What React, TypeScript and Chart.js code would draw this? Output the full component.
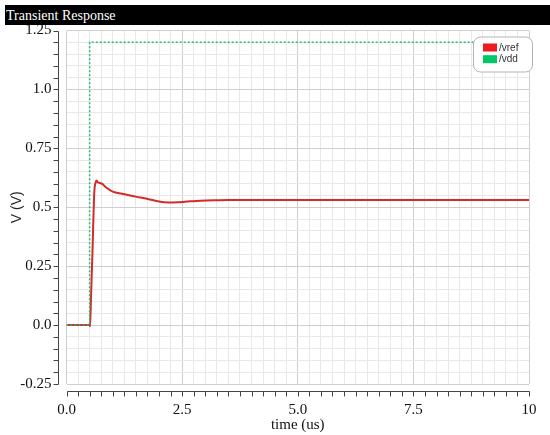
import React, { useEffect, useRef } from 'react';
import { Chart, registerables } from 'chart.js';

Chart.register(...registerables);

const titleText = 'Transient Response';
const xAxisTitle = 'time (us)';
const yAxisTitle = 'V (V)';
const seriesNames = ['/vref', '/vdd'];

const vrefTime = [0, 0.5, 0.51, 0.53, 0.56, 0.6, 0.63, 0.65, 0.68, 0.72, 0.78, 0.85, 0.94, 1.0, 1.2, 1.5, 1.8, 2.0, 2.2, 2.4, 2.6, 2.9, 3.2, 3.5, 4, 5, 6, 7, 8, 9, 10];
const vrefVolts = [0, 0, -0.005, 0.12, 0.3, 0.56, 0.605, 0.613, 0.605, 0.603, 0.598, 0.585, 0.573, 0.566, 0.557, 0.545, 0.533, 0.524, 0.52, 0.521, 0.524, 0.528, 0.53, 0.531, 0.531, 0.531, 0.531, 0.531, 0.531, 0.531, 0.531];

const vddTime = [0, 0.5, 0.5, 10];
const vddVolts = [0, 0, 1.2, 1.2];

const xMajorTicks = [0, 2.5, 5, 7.5, 10];
const xTickLabels = ['0.0', '2.5', '5.0', '7.5', '10'];
const yMajorTicks = [-0.25, 0, 0.25, 0.5, 0.75, 1.0, 1.25];
const yTickLabels = ['-0.25', '0.0', '0.25', '0.5', '0.75', '1.0', '1.25'];
const xMinorStep = 0.25;
const yMinorStep = 0.05;

const seriesLineColors = ['#d42a2a', '#1fbf6c'];
const seriesLegendColors = ['#ee1c1c', '#00c864'];

const findMajor = (arr: number[], v: number) => arr.findIndex((m) => Math.abs(m - v) < 1e-6);

const buildTicks = (min: number, max: number, step: number) => {
  const out: { value: number }[] = [];
  const n = Math.round((max - min) / step);
  for (let i = 0; i <= n; i++) out.push({ value: Math.round((min + i * step) * 1e9) / 1e9 });
  return out;
};

const decorPlugin = {
  id: 'decor',
  afterDraw(chart: any) {
    const { ctx, chartArea, scales } = chart;
    const xs = scales.x;
    const ys = scales.y;
    ctx.save();
    ctx.strokeStyle = '#444';
    ctx.lineWidth = 1;
    ctx.beginPath();
    const ax = Math.round(chartArea.left - 9) + 0.5;
    ctx.moveTo(ax, Math.round(ys.getPixelForValue(ys.max)) + 0.5);
    ctx.lineTo(ax, Math.round(ys.getPixelForValue(ys.min)) + 0.5);
    ys.ticks.forEach((t: any) => {
      const y = Math.round(ys.getPixelForValue(t.value)) + 0.5;
      ctx.moveTo(ax - 5, y);
      ctx.lineTo(ax, y);
    });
    const ay = Math.round(chartArea.bottom + 7) + 0.5;
    ctx.moveTo(Math.round(xs.getPixelForValue(xs.min)) + 0.5, ay);
    ctx.lineTo(Math.round(xs.getPixelForValue(xs.max)) + 0.5, ay);
    xs.ticks.forEach((t: any) => {
      const x = Math.round(xs.getPixelForValue(t.value)) + 0.5;
      ctx.moveTo(x, ay);
      ctx.lineTo(x, ay + 5);
    });
    ctx.stroke();

    // legend box
    const bw = 59;
    const bh = 35;
    const bx = chartArea.right + 3 - bw;
    const by = chartArea.top + 6;
    ctx.beginPath();
    ctx.roundRect(bx + 0.5, by + 0.5, bw, bh, 7);
    ctx.fillStyle = '#ffffff';
    ctx.fill();
    ctx.strokeStyle = '#b4b4b4';
    ctx.stroke();
    ctx.font = '10px "Liberation Sans", Arial, sans-serif';
    ctx.textBaseline = 'middle';
    ctx.textAlign = 'left';
    chart.data.datasets.forEach((ds: any, i: number) => {
      const ry = by + 7 + i * 11.7;
      ctx.fillStyle = seriesLegendColors[i];
      ctx.fillRect(bx + 10, ry, 14, 8);
      ctx.fillStyle = '#333';
      ctx.fillText(ds.label, bx + 26, ry + 4.5);
    });
    ctx.restore();
  },
};

export default function App() {
  const ref = useRef<HTMLCanvasElement | null>(null);
  useEffect(() => {
    if (!ref.current) return;
    const chart = new Chart(ref.current, {
      type: 'line',
      data: {
        datasets: [
          {
            label: seriesNames[0],
            data: vrefTime.map((t, i) => ({ x: t, y: vrefVolts[i] })),
            borderColor: seriesLineColors[0],
            backgroundColor: seriesLegendColors[0],
            borderWidth: 2,
            pointRadius: 0,
            tension: 0,
            cubicInterpolationMode: 'monotone',
            order: 1,
          },
          {
            label: seriesNames[1],
            data: vddTime.map((t, i) => ({ x: t, y: vddVolts[i] })),
            borderColor: seriesLineColors[1],
            backgroundColor: seriesLegendColors[1],
            borderWidth: 1.5,
            borderDash: [2, 2],
            pointRadius: 0,
            tension: 0,
            order: 0,
          },
        ],
      },
      options: {
        responsive: false,
        animation: false,
        devicePixelRatio: 1,
        layout: { padding: { top: 30.5, right: 21, bottom: 0, left: 0 } },
        plugins: {
          legend: { display: false },
          tooltip: { enabled: false },
          title: { display: false },
        },
        scales: {
          x: {
            type: 'linear',
            min: 0,
            max: 10,
            afterBuildTicks: (s: any) => {
              s.ticks = buildTicks(0, 10, xMinorStep);
            },
            afterFit: (s: any) => {
              s.height = 51;
              s.paddingLeft = 0;
              s.paddingRight = 0;
            },
            grid: {
              color: (c: any) => (c.tick && findMajor(xMajorTicks, c.tick.value) >= 0 ? '#cfcfcf' : '#e8e8e8'),
              drawTicks: false,
              lineWidth: 1,
            },
            border: { display: false },
            ticks: {
              autoSkip: false,
              maxRotation: 0,
              padding: 17,
              color: '#111',
              font: { family: '"Liberation Serif", "Times New Roman", serif', size: 15 },
              callback: (v: any) => {
                const i = findMajor(xMajorTicks, Number(v));
                return i >= 0 ? xTickLabels[i] : '';
              },
            },
            title: {
              display: true,
              text: xAxisTitle,
              color: '#111',
              font: { family: '"Liberation Serif", "Times New Roman", serif', size: 15 },
              padding: { top: 0, bottom: 1 },
            },
          },
          y: {
            type: 'linear',
            min: -0.25,
            max: 1.25,
            afterBuildTicks: (s: any) => {
              s.ticks = buildTicks(-0.25, 1.25, yMinorStep);
            },
            afterFit: (s: any) => {
              s.width = 66.5;
              s.paddingTop = 0;
              s.paddingBottom = 0;
            },
            grid: {
              color: (c: any) => (c.tick && findMajor(yMajorTicks, c.tick.value) >= 0 ? '#cfcfcf' : '#e8e8e8'),
              drawTicks: false,
              lineWidth: 1,
            },
            border: { display: false },
            ticks: {
              autoSkip: false,
              padding: 15,
              color: '#111',
              font: { family: '"Liberation Serif", "Times New Roman", serif', size: 15 },
              callback: (v: any) => {
                const i = findMajor(yMajorTicks, Number(v));
                return i >= 0 ? yTickLabels[i] : '';
              },
            },
            title: {
              display: true,
              text: yAxisTitle,
              color: '#222',
              font: { family: '"Liberation Sans", Arial, sans-serif', size: 14 },
              padding: { top: 8.6, bottom: 0 },
            },
          },
        },
      } as any,
      plugins: [decorPlugin],
    });
    return () => chart.destroy();
  }, []);

  return (
    <div style={{ position: 'absolute', left: 0, top: 0, width: 550, height: 435, background: '#fff', overflow: 'hidden' }}>
      <canvas ref={ref} width={550} height={435} style={{ position: 'absolute', left: 0, top: 0 }} />
      <div
        style={{
          position: 'absolute',
          left: 5,
          top: 5,
          width: 545,
          height: 20,
          background: '#000',
          color: '#fff',
          fontFamily: '"Liberation Serif", "Times New Roman", serif',
          fontSize: 14,
          lineHeight: '20px',
          paddingLeft: 1,
          paddingTop: 1,
          boxSizing: 'border-box',
          whiteSpace: 'nowrap',
        }}
      >
        {titleText}
      </div>
    </div>
  );
}
